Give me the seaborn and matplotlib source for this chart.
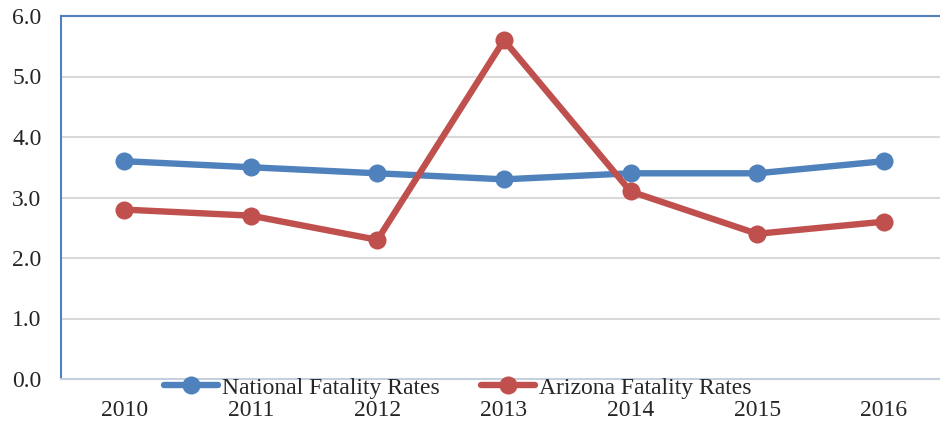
import matplotlib
matplotlib.use("Agg")
import matplotlib.pyplot as plt
import seaborn as sns
import pandas as pd
from matplotlib.lines import Line2D

years = ["2010", "2011", "2012", "2013", "2014", "2015", "2016"]
national = [3.6, 3.5, 3.4, 3.3, 3.4, 3.4, 3.6]
arizona = [2.8, 2.7, 2.3, 5.6, 3.1, 2.4, 2.6]
series_names = ["National Fatality Rates", "Arizona Fatality Rates"]
colors = ["#4F81BD", "#C0504D"]
yticks = [0.0, 1.0, 2.0, 3.0, 4.0, 5.0, 6.0]

sns.set_theme(style="white")
plt.rcParams['font.family'] = ['Liberation Serif', 'DejaVu Serif']

df = pd.DataFrame({
    "idx": list(range(len(years))) * 2,
    "value": national + arizona,
    "series": [series_names[0]] * len(years) + [series_names[1]] * len(years),
})

W, H = 940, 421
fig = plt.figure(figsize=(W / 100, H / 100), dpi=100)
left, right, top, bottom = 61, 947, 16, 379
ax = fig.add_axes([left / W, 1 - bottom / H, (right - left) / W, (bottom - top) / H])

FS = 17
LW, MS = 4.6, 13
sns.lineplot(data=df, x="idx", y="value", hue="series", palette=colors,
             marker="o", markersize=MS, markeredgewidth=0, linewidth=LW,
             ax=ax, legend=False, zorder=3)

ax.set_xlim(-0.5, len(years) - 0.5)
ax.set_ylim(0, 6)
ax.set_yticks(yticks)
ax.set_yticklabels([f"{v:.1f}" for v in yticks], fontsize=FS)
ax.set_xticks(range(len(years)))
ax.set_xticklabels(years, fontsize=FS)
ax.tick_params(axis="x", length=0, pad=15)
ax.tick_params(axis="y", length=0, pad=14)
ax.set_xlabel("")
ax.set_ylabel("")
for v in yticks[1:-1]:
    ax.axhline(v, color="#D9D9D9", linewidth=1.5, zorder=1)

for s in ["left", "top", "right"]:
    ax.spines[s].set_color("#4F81BD")
    ax.spines[s].set_linewidth(1.5)
ax.spines["bottom"].set_color("#C5D0DE")
ax.spines["bottom"].set_linewidth(1.5)

handles = [Line2D([0], [0], color=c, linewidth=LW, marker="o", markersize=MS,
                  markeredgewidth=0) for c in colors]
fig.legend(handles, series_names, loc="center", bbox_to_anchor=(0.487, 1 - 388 / H),
           ncol=2, frameon=False, fontsize=FS, handlelength=2.3, handletextpad=0.15,
           columnspacing=1.75, borderaxespad=0, borderpad=0)

fig.savefig("out.png", dpi=100)
